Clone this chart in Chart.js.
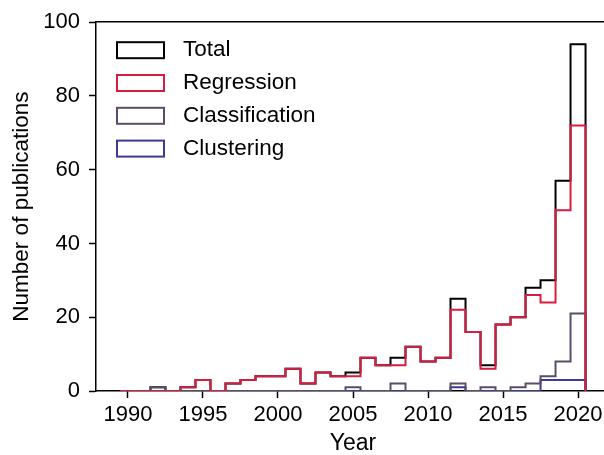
<!DOCTYPE html>
<html>
<head>
<meta charset="utf-8">
<script src="https://cdn.jsdelivr.net/npm/chart.js@4/dist/chart.umd.min.js"></script>
<style>
  html, body { margin: 0; padding: 0; overflow: hidden; background: #ffffff; }
  canvas { display: block; }
</style>
</head>
<body>
<canvas id="chart" width="616" height="455"></canvas>
<script>
// Publications per year, by task type
const years = [1990, 1991, 1992, 1993, 1994, 1995, 1996, 1997, 1998, 1999,
               2000, 2001, 2002, 2003, 2004, 2005, 2006, 2007, 2008, 2009,
               2010, 2011, 2012, 2013, 2014, 2015, 2016, 2017, 2018, 2019, 2020];
const total          = [0, 0, 1, 0, 1, 3, 0, 2, 3, 4, 4, 6, 2, 5, 4, 5, 9, 7, 9, 12, 8, 9, 25, 16, 7, 18, 20, 28, 30, 57, 94];
const regression     = [0, 0, 0, 0, 1, 3, 0, 2, 3, 4, 4, 6, 2, 5, 4, 4, 9, 7, 7, 12, 8, 9, 22, 16, 6, 18, 20, 26, 24, 49, 72];
const classification = [0, 0, 1, 0, 0, 0, 0, 0, 0, 0, 0, 0, 0, 0, 0, 1, 0, 0, 2, 0, 0, 0, 2, 0, 1, 0, 1, 2, 4, 8, 21];
const clustering     = [0, 0, 0, 0, 0, 0, 0, 0, 0, 0, 0, 0, 0, 0, 0, 0, 0, 0, 0, 0, 0, 0, 1, 0, 0, 0, 0, 0, 3, 3, 3];

const seriesLabels = ['Total', 'Regression', 'Classification', 'Clustering'];
const yearTicks  = [1990, 1995, 2000, 2005, 2010, 2015, 2020];
const countTicks = [0, 20, 40, 60, 80, 100];

const FONT = '"Liberation Sans", Arial, Helvetica, sans-serif';
const colors = ['#000000', '#d81b40', '#5b4d68', '#3d3996'];

// Step-histogram outline: each count covers its year +/- half a year,
// and the trace drops back to zero after the last bin.
function histogramOutline(values) {
  const pts = years.map((yr, i) => ({ x: yr - 0.5, y: values[i] }));
  pts.push({ x: years[years.length - 1] + 0.5, y: 0 });
  return pts;
}

function stepSeries(label, values, color, order) {
  return {
    label: label,
    data: histogramOutline(values),
    borderColor: color,
    backgroundColor: color,
    borderWidth: 2,
    pointRadius: 0,
    pointHoverRadius: 0,
    stepped: 'before',
    fill: false,
    tension: 0,
    order: order
  };
}

// Legend drawn inside the plot, upper-left, with outlined boxes
const insetLegend = {
  id: 'insetLegend',
  afterDraw(chart, args, opts) {
    const ctx = chart.ctx;
    const area = chart.chartArea;
    ctx.save();
    ctx.font = opts.fontSize + 'px ' + FONT;
    ctx.textBaseline = 'middle';
    ctx.textAlign = 'left';
    seriesLabels.forEach((label, row) => {
      const ds = chart.data.datasets.find(d => d.label === label);
      const x = area.left + opts.left;
      const cy = area.top + opts.top + row * opts.rowGap;
      ctx.lineWidth = 2;
      ctx.strokeStyle = ds.borderColor;
      ctx.strokeRect(x, cy - opts.boxH / 2, opts.boxW, opts.boxH);
      ctx.fillStyle = '#000000';
      ctx.fillText(label, x + opts.boxW + opts.gap, cy);
    });
    ctx.restore();
  }
};

const xMin = 1987.87, xMax = 2022.13;

new Chart(document.getElementById('chart'), {
  type: 'line',
  data: {
    datasets: [
      stepSeries(seriesLabels[0], total, colors[0], 4),
      stepSeries(seriesLabels[1], regression, colors[1], 1),
      stepSeries(seriesLabels[2], classification, colors[2], 2),
      stepSeries(seriesLabels[3], clustering, colors[3], 3)
    ]
  },
  options: {
    responsive: false,
    animation: false,
    devicePixelRatio: 1,
    layout: { padding: { top: 19, right: 6, bottom: 0, left: 0 } },
    plugins: {
      legend: { display: false },
      tooltip: { enabled: false },
      insetLegend: { left: 21, top: 28, rowGap: 32.8, boxW: 47, boxH: 16, gap: 19, fontSize: 22.5 }
    },
    scales: {
      x: {
        type: 'linear',
        position: 'bottom',
        min: xMin,
        max: xMax,
        z: 1,
        afterBuildTicks: s => { s.ticks = yearTicks.map(v => ({ value: v })); },
        afterFit: s => { s.height = 64; },
        grid: { display: true, drawOnChartArea: false, drawTicks: true, tickLength: 7, tickWidth: 1.5, tickColor: '#000000' },
        border: { display: true, color: '#000000', width: 1.5 },
        ticks: {
          autoSkip: false, maxRotation: 0, padding: 4, color: '#000000',
          font: { family: FONT, size: 22 },
          callback: v => String(v)
        },
        title: {
          display: true, text: 'Year', color: '#000000',
          font: { family: FONT, size: 23, lineHeight: 1 },
          padding: { top: 0, bottom: 0 }
        }
      },
      xTop: {
        type: 'linear',
        position: 'top',
        min: xMin,
        max: xMax,
        z: 1,
        afterFit: s => { s.height = 0; },
        grid: { display: false, drawTicks: false },
        border: { display: true, color: '#000000', width: 1.5 },
        ticks: { display: false }
      },
      y: {
        type: 'linear',
        position: 'left',
        min: 0,
        max: 100,
        z: 1,
        afterBuildTicks: s => { s.ticks = countTicks.map(v => ({ value: v })); },
        afterFit: s => { s.width = 96; },
        grid: { display: true, drawOnChartArea: false, drawTicks: true, tickLength: 7, tickWidth: 1.5, tickColor: '#000000' },
        border: { display: true, color: '#000000', width: 1.5 },
        ticks: {
          padding: 9, color: '#000000',
          font: { family: FONT, size: 22 },
          callback: v => String(v)
        },
        title: {
          display: true, text: 'Number of publications', color: '#000000',
          font: { family: FONT, size: 22.5, lineHeight: 1 },
          padding: { top: 11, bottom: 0 }
        }
      }
    }
  },
  plugins: [insetLegend]
});
</script>
</body>
</html>
